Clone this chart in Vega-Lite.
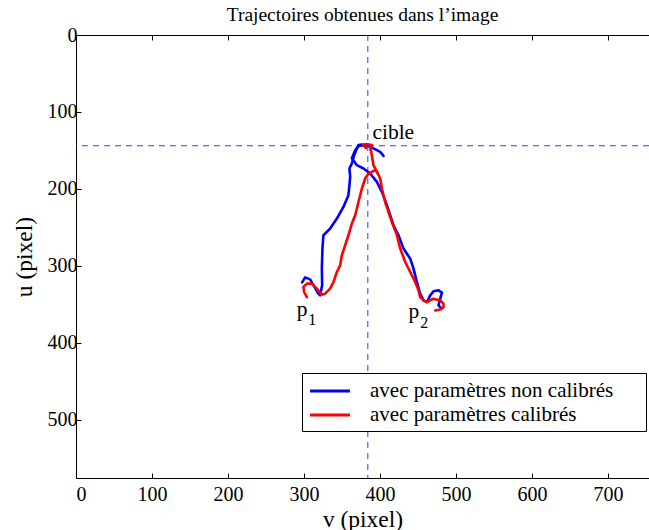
{
  "$schema": "https://vega.github.io/schema/vega-lite/v6.json",
  "autosize": {"type": "none"},
  "padding": {"left": 76, "top": 35, "right": 0, "bottom": 52},
  "width": 573,
  "height": 443,
  "background": "white",
  "title": {"text": "Trajectoires obtenues dans l’image", "font": "Liberation Serif", "fontSize": 19.5, "fontWeight": "normal", "color": "black", "offset": 0, "anchor": "middle"},
  "config": {
    "font": "Liberation Serif",
    "view": {"stroke": null},
    "axis": {"domainColor": "black", "tickColor": "black", "grid": false, "labelFont": "Liberation Serif", "labelFontSize": 20, "labelColor": "black", "titleFont": "Liberation Serif", "titleFontSize": 23.5, "titleFontWeight": "normal", "titleColor": "black", "tickSize": -5, "domainWidth": 1, "tickWidth": 1}
  },
  "datasets": {
    "target": [{"v": 384, "u": 144}],
    "traj": [
      {"s": "avec paramètres non calibrés", "t": "bA", "i": 0, "v": 297.6, "u": 321.6},
      {"s": "avec paramètres non calibrés", "t": "bA", "i": 1, "v": 301.5, "u": 315.1},
      {"s": "avec paramètres non calibrés", "t": "bA", "i": 2, "v": 308.1, "u": 317.7},
      {"s": "avec paramètres non calibrés", "t": "bA", "i": 3, "v": 318.6, "u": 335.9},
      {"s": "avec paramètres non calibrés", "t": "bA", "i": 4, "v": 321.3, "u": 338.5},
      {"s": "avec paramètres non calibrés", "t": "bA", "i": 5, "v": 323.9, "u": 325.5},
      {"s": "avec paramètres non calibrés", "t": "bA", "i": 6, "v": 323.5, "u": 303.4},
      {"s": "avec paramètres non calibrés", "t": "bA", "i": 7, "v": 324.3, "u": 277.3},
      {"s": "avec paramètres non calibrés", "t": "bA", "i": 8, "v": 325.6, "u": 260.4},
      {"s": "avec paramètres non calibrés", "t": "bA", "i": 9, "v": 334.4, "u": 251.7},
      {"s": "avec paramètres non calibrés", "t": "bA", "i": 10, "v": 343.3, "u": 238.7},
      {"s": "avec paramètres non calibrés", "t": "bA", "i": 11, "v": 351.9, "u": 223.6},
      {"s": "avec paramètres non calibrés", "t": "bA", "i": 12, "v": 358.5, "u": 208.3},
      {"s": "avec paramètres non calibrés", "t": "bA", "i": 13, "v": 359.8, "u": 195.3},
      {"s": "avec paramètres non calibrés", "t": "bA", "i": 14, "v": 360.8, "u": 184.5},
      {"s": "avec paramètres non calibrés", "t": "bA", "i": 15, "v": 359.8, "u": 173.6},
      {"s": "avec paramètres non calibrés", "t": "bA", "i": 16, "v": 363.0, "u": 167.1},
      {"s": "avec paramètres non calibrés", "t": "bA", "i": 17, "v": 366.0, "u": 156.3},
      {"s": "avec paramètres non calibrés", "t": "bA", "i": 18, "v": 369.6, "u": 147.5},
      {"s": "avec paramètres non calibrés", "t": "bA", "i": 19, "v": 371.7, "u": 143.2},
      {"s": "avec paramètres non calibrés", "t": "bA", "i": 20, "v": 376.2, "u": 142.3},
      {"s": "avec paramètres non calibrés", "t": "bA", "i": 21, "v": 382.8, "u": 143.2},
      {"s": "avec paramètres non calibrés", "t": "bB", "i": 0, "v": 479.3, "u": 353.8},
      {"s": "avec paramètres non calibrés", "t": "bB", "i": 1, "v": 477.0, "u": 351.6},
      {"s": "avec paramètres non calibrés", "t": "bB", "i": 2, "v": 479.3, "u": 342.8},
      {"s": "avec paramètres non calibrés", "t": "bB", "i": 3, "v": 481.5, "u": 335.0},
      {"s": "avec paramètres non calibrés", "t": "bB", "i": 4, "v": 477.0, "u": 332.0},
      {"s": "avec paramètres non calibrés", "t": "bB", "i": 5, "v": 470.4, "u": 333.3},
      {"s": "avec paramètres non calibrés", "t": "bB", "i": 6, "v": 466.1, "u": 338.5},
      {"s": "avec paramètres non calibrés", "t": "bB", "i": 7, "v": 461.8, "u": 347.3},
      {"s": "avec paramètres non calibrés", "t": "bB", "i": 8, "v": 457.3, "u": 345.1},
      {"s": "avec paramètres non calibrés", "t": "bB", "i": 9, "v": 452.9, "u": 336.3},
      {"s": "avec paramètres non calibrés", "t": "bB", "i": 10, "v": 448.6, "u": 321.2},
      {"s": "avec paramètres non calibrés", "t": "bB", "i": 11, "v": 444.1, "u": 303.8},
      {"s": "avec paramètres non calibrés", "t": "bB", "i": 12, "v": 439.8, "u": 290.8},
      {"s": "avec paramètres non calibrés", "t": "bB", "i": 13, "v": 430.9, "u": 277.7},
      {"s": "avec paramètres non calibrés", "t": "bB", "i": 14, "v": 424.4, "u": 260.4},
      {"s": "avec paramètres non calibrés", "t": "bB", "i": 15, "v": 417.8, "u": 247.4},
      {"s": "avec paramètres non calibrés", "t": "bB", "i": 16, "v": 413.4, "u": 234.4},
      {"s": "avec paramètres non calibrés", "t": "bB", "i": 17, "v": 409.1, "u": 221.4},
      {"s": "avec paramètres non calibrés", "t": "bB", "i": 18, "v": 402.5, "u": 204.0},
      {"s": "avec paramètres non calibrés", "t": "bB", "i": 19, "v": 395.9, "u": 191.0},
      {"s": "avec paramètres non calibrés", "t": "bB", "i": 20, "v": 387.1, "u": 180.1},
      {"s": "avec paramètres non calibrés", "t": "bB", "i": 21, "v": 378.3, "u": 173.6},
      {"s": "avec paramètres non calibrés", "t": "bB", "i": 22, "v": 369.6, "u": 169.3},
      {"s": "avec paramètres non calibrés", "t": "bB", "i": 23, "v": 363.0, "u": 160.2},
      {"s": "avec paramètres non calibrés", "t": "bB", "i": 24, "v": 367.4, "u": 149.7},
      {"s": "avec paramètres non calibrés", "t": "bB", "i": 25, "v": 372.6, "u": 143.9},
      {"s": "avec paramètres non calibrés", "t": "bB", "i": 26, "v": 382.8, "u": 143.2},
      {"s": "avec paramètres non calibrés", "t": "bB", "i": 27, "v": 391.4, "u": 147.5},
      {"s": "avec paramètres non calibrés", "t": "bB", "i": 28, "v": 400.3, "u": 152.0},
      {"s": "avec paramètres non calibrés", "t": "bB", "i": 29, "v": 404.6, "u": 157.2},
      {"s": "avec paramètres calibrés", "t": "rA", "i": 0, "v": 303.8, "u": 340.8},
      {"s": "avec paramètres calibrés", "t": "rA", "i": 1, "v": 300.2, "u": 334.2},
      {"s": "avec paramètres calibrés", "t": "rA", "i": 2, "v": 299.3, "u": 327.7},
      {"s": "avec paramètres calibrés", "t": "rA", "i": 3, "v": 303.8, "u": 323.3},
      {"s": "avec paramètres calibrés", "t": "rA", "i": 4, "v": 310.3, "u": 323.3},
      {"s": "avec paramètres calibrés", "t": "rA", "i": 5, "v": 316.9, "u": 329.8},
      {"s": "avec paramètres calibrés", "t": "rA", "i": 6, "v": 323.5, "u": 337.6},
      {"s": "avec paramètres calibrés", "t": "rA", "i": 7, "v": 327.8, "u": 336.3},
      {"s": "avec paramètres calibrés", "t": "rA", "i": 8, "v": 334.4, "u": 329.8},
      {"s": "avec paramètres calibrés", "t": "rA", "i": 9, "v": 338.8, "u": 321.2},
      {"s": "avec paramètres calibrés", "t": "rA", "i": 10, "v": 343.3, "u": 308.2},
      {"s": "avec paramètres calibrés", "t": "rA", "i": 11, "v": 347.6, "u": 299.5},
      {"s": "avec paramètres calibrés", "t": "rA", "i": 12, "v": 349.8, "u": 286.5},
      {"s": "avec paramètres calibrés", "t": "rA", "i": 13, "v": 354.2, "u": 273.4},
      {"s": "avec paramètres calibrés", "t": "rA", "i": 14, "v": 358.5, "u": 260.4},
      {"s": "avec paramètres calibrés", "t": "rA", "i": 15, "v": 363.0, "u": 245.2},
      {"s": "avec paramètres calibrés", "t": "rA", "i": 16, "v": 367.4, "u": 234.4},
      {"s": "avec paramètres calibrés", "t": "rA", "i": 17, "v": 371.7, "u": 217.1},
      {"s": "avec paramètres calibrés", "t": "rA", "i": 18, "v": 376.2, "u": 199.6},
      {"s": "avec paramètres calibrés", "t": "rA", "i": 19, "v": 380.5, "u": 186.6},
      {"s": "avec paramètres calibrés", "t": "rA", "i": 20, "v": 384.9, "u": 180.1},
      {"s": "avec paramètres calibrés", "t": "rA", "i": 21, "v": 393.7, "u": 175.8},
      {"s": "avec paramètres calibrés", "t": "rA", "i": 22, "v": 396.3, "u": 178.4},
      {"s": "avec paramètres calibrés", "t": "rB", "i": 0, "v": 472.7, "u": 358.1},
      {"s": "avec paramètres calibrés", "t": "rB", "i": 1, "v": 479.3, "u": 356.8},
      {"s": "avec paramètres calibrés", "t": "rB", "i": 2, "v": 483.6, "u": 353.8},
      {"s": "avec paramètres calibrés", "t": "rB", "i": 3, "v": 483.6, "u": 349.3},
      {"s": "avec paramètres calibrés", "t": "rB", "i": 4, "v": 479.3, "u": 345.1},
      {"s": "avec paramètres calibrés", "t": "rB", "i": 5, "v": 470.4, "u": 342.8},
      {"s": "avec paramètres calibrés", "t": "rB", "i": 6, "v": 466.1, "u": 345.1},
      {"s": "avec paramètres calibrés", "t": "rB", "i": 7, "v": 461.8, "u": 347.3},
      {"s": "avec paramètres calibrés", "t": "rB", "i": 8, "v": 457.3, "u": 345.1},
      {"s": "avec paramètres calibrés", "t": "rB", "i": 9, "v": 452.9, "u": 340.8},
      {"s": "avec paramètres calibrés", "t": "rB", "i": 10, "v": 450.7, "u": 332.0},
      {"s": "avec paramètres calibrés", "t": "rB", "i": 11, "v": 446.3, "u": 321.2},
      {"s": "avec paramètres calibrés", "t": "rB", "i": 12, "v": 439.8, "u": 308.2},
      {"s": "avec paramètres calibrés", "t": "rB", "i": 13, "v": 433.2, "u": 295.2},
      {"s": "avec paramètres calibrés", "t": "rB", "i": 14, "v": 426.6, "u": 277.7},
      {"s": "avec paramètres calibrés", "t": "rB", "i": 15, "v": 422.3, "u": 260.4},
      {"s": "avec paramètres calibrés", "t": "rB", "i": 16, "v": 415.7, "u": 243.1},
      {"s": "avec paramètres calibrés", "t": "rB", "i": 17, "v": 411.2, "u": 230.1},
      {"s": "avec paramètres calibrés", "t": "rB", "i": 18, "v": 406.8, "u": 217.1},
      {"s": "avec paramètres calibrés", "t": "rB", "i": 19, "v": 402.5, "u": 199.6},
      {"s": "avec paramètres calibrés", "t": "rB", "i": 20, "v": 400.3, "u": 186.6},
      {"s": "avec paramètres calibrés", "t": "rB", "i": 21, "v": 395.9, "u": 178.0},
      {"s": "avec paramètres calibrés", "t": "rB", "i": 22, "v": 391.4, "u": 169.3},
      {"s": "avec paramètres calibrés", "t": "rB", "i": 23, "v": 389.3, "u": 156.3},
      {"s": "avec paramètres calibrés", "t": "rB", "i": 24, "v": 387.1, "u": 145.8},
      {"s": "avec paramètres calibrés", "t": "rB", "i": 25, "v": 389.3, "u": 143.2},
      {"s": "avec paramètres calibrés", "t": "rB", "i": 26, "v": 381.7, "u": 141.9},
      {"s": "avec paramètres calibrés", "t": "rB", "i": 27, "v": 377.8, "u": 143.2},
      {"s": "avec paramètres calibrés", "t": "rB", "i": 28, "v": 381.7, "u": 147.1}
    ],
    "labels": [
      {"txt": "cible", "v": 390, "u": 135.4},
      {"txt": "p", "v": 290.6, "u": 365.9},
      {"txt": "p", "v": 437.5, "u": 368.5}
    ],
    "subs": [
      {"txt": "1", "v": 305.5, "u": 377.6},
      {"txt": "2", "v": 452.9, "u": 381.5}
    ]
  },
  "resolve": {"axis": {"x": "independent", "y": "independent"}},
  "layer": [
    {
      "data": {"name": "target"},
      "mark": {"type": "rule", "color": "#2b3cf0", "strokeWidth": 1, "strokeDash": [6, 5]},
      "encoding": {
        "x": {"field": "v", "type": "quantitative", "scale": {"domain": [0, 754], "nice": false, "zero": false},
              "axis": {"orient": "top", "labels": false, "title": null, "values": [0, 100, 200, 300, 400, 500, 600, 700]}}
      }
    },
    {
      "data": {"name": "target"},
      "mark": {"type": "rule", "color": "#2b3cf0", "strokeWidth": 1, "strokeDash": [6, 5]},
      "encoding": {
        "y": {"field": "u", "type": "quantitative", "scale": {"domain": [0, 576], "nice": false, "zero": false, "reverse": true}, "axis": null}
      }
    },
    {
      "data": {"name": "traj"},
      "mark": {"type": "line", "strokeWidth": 2.6, "strokeJoin": "round", "strokeCap": "round"},
      "encoding": {
        "x": {"field": "v", "type": "quantitative", "axis": {"orient": "bottom", "title": "v (pixel)", "values": [0, 100, 200, 300, 400, 500, 600, 700], "labelPadding": 11, "titlePadding": 3}},
        "y": {"field": "u", "type": "quantitative", "axis": {"orient": "left", "title": "u (pixel)", "values": [0, 100, 200, 300, 400, 500], "labelPadding": 4, "titlePadding": 11}},
        "color": {"field": "s", "type": "nominal",
                  "scale": {"domain": ["avec paramètres non calibrés", "avec paramètres calibrés"], "range": ["#0000ff", "#ff0000"]},
                  "legend": {"title": null, "orient": "none", "legendX": 226, "legendY": 338, "symbolType": "M-1.9,0H1.9", "symbolSize": 441, "symbolStrokeWidth": 3, "symbolOffset": 10, "labelFont": "Liberation Serif", "labelFontSize": 21, "labelColor": "black", "labelOffset": 28, "labelLimit": 500, "labelExpr": "datum.label + '\u00a0\u00a0\u00a0\u00a0\u00a0\u200b'", "strokeColor": "black", "fillColor": "white", "padding": 6, "rowPadding": 2}},
        "detail": {"field": "t"},
        "order": {"field": "i", "type": "quantitative"}
      }
    },
    {
      "data": {"name": "labels"},
      "mark": {"type": "text", "font": "Liberation Serif", "fontSize": 21.5, "align": "left", "baseline": "alphabetic", "color": "black"},
      "encoding": {
        "x": {"field": "v", "type": "quantitative", "axis": null},
        "y": {"field": "u", "type": "quantitative", "axis": null},
        "text": {"field": "txt"}
      }
    },
    {
      "data": {"name": "subs"},
      "mark": {"type": "text", "font": "Liberation Serif", "fontSize": 16, "align": "left", "baseline": "alphabetic", "color": "black"},
      "encoding": {
        "x": {"field": "v", "type": "quantitative", "axis": null},
        "y": {"field": "u", "type": "quantitative", "axis": null},
        "text": {"field": "txt"}
      }
    }
  ]
}
